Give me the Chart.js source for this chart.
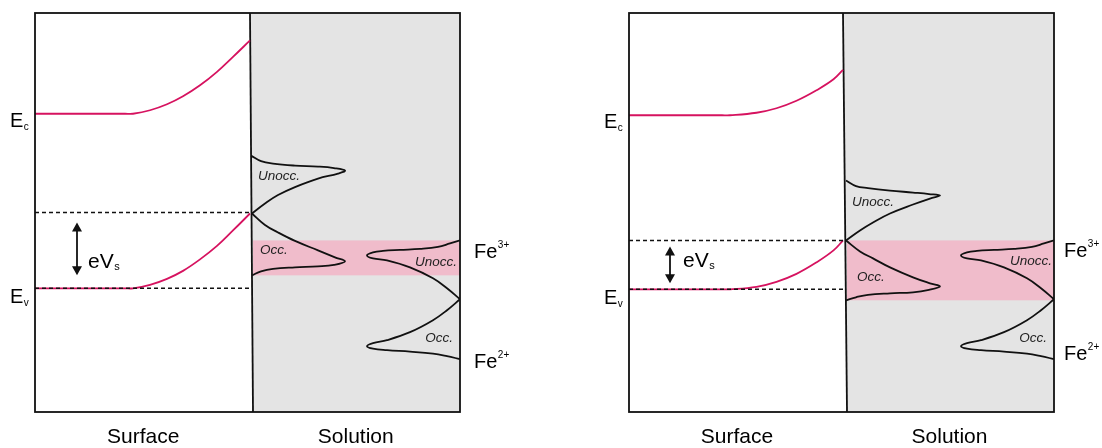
<!DOCTYPE html>
<html>
<head>
<meta charset="utf-8">
<script src="https://cdn.jsdelivr.net/npm/chart.js@4.4.1/dist/chart.umd.min.js"></script>
<style>
  html, body { margin: 0; padding: 0; background: #fff; }
  #wrap { position: relative; width: 1102px; height: 448px; }
  #wrap canvas { position: absolute; top: 0; }
  #left { left: 0; }
  #right { left: 551px; }
</style>
</head>
<body>
<div id="wrap">
  <canvas id="left" width="551" height="448"></canvas>
  <canvas id="right" width="551" height="448"></canvas>
</div>
<script>
// position across the interface (x) vs. electron energy (y), arbitrary units
const X_RANGE = [0, 85];
const Y_RANGE = [0, 80];

// left panel: surface Ev bent up to the Fe3+/Fe2+ crossing point
const leftEc = [[0, 59.8], [10, 59.8], [18, 59.8], [19.6, 59.8], [23, 60.5], [26.4, 61.7], [29.6, 63.3], [33, 65.5],
  [36.4, 68.2], [39.6, 71.2], [43, 74.5]];
const leftEv = [[0, 24.8], [10, 24.8], [18, 24.8], [19.6, 24.8], [23, 25.5], [26.4, 26.7], [29.6, 28.3], [33, 30.6],
  [36.4, 33.3], [39.6, 36.4], [43, 39.8]];
const leftLevels = [40, 24.8];              // surface / bulk valence band edge
const leftInterface = [[43.6, 0], [43, 80]];
const leftUnocc = [[43.2, 51.4], [45.2, 50.3], [47.6, 49.8], [52, 49.4], [56.6, 49.2], [59.8, 48.9], [62, 48.4],
  [60.6, 47.8], [56.6, 46.8], [52, 45.1], [48.6, 43.5], [46, 41.8], [43.4, 39.8]];
const leftOcc = [[43.4, 39.8], [46, 37.5], [48.6, 36], [52, 34.3], [56.6, 32.4], [60, 31], [62, 30.2],
  [59.8, 29.5], [56.6, 29.2], [52, 29], [47.6, 28.7], [45.2, 28.2], [43.4, 27.4]];
const leftOverlap = [34.4, 27.4];

// right panel: surface states shifted down, overlap window wider
const rightEc = [[0, 59.5], [10, 59.5], [18.6, 59.5], [20.2, 59.5], [25.5, 60], [29.5, 60.9], [33.5, 62.4], [37.5, 64.5],
  [40.9, 66.7], [42.8, 68.6]];
const rightEv = [[0, 24.6], [10, 24.6], [18.6, 24.6], [20.2, 24.6], [25.5, 25.1], [29.5, 26.1], [33.5, 27.7], [37.5, 30],
  [40.9, 32.4], [42.8, 34.4]];
const rightLevels = [34.4, 24.6];
const rightInterface = [[43.6, 0], [42.8, 80]];
const rightUnocc = [[43.4, 46.4], [45.4, 45.3], [47.8, 44.9], [52.2, 44.4], [56.8, 44], [60, 43.7], [62.2, 43.4],
  [60.2, 42.8], [56.8, 41.6], [52.2, 39.8], [48.8, 38], [46.2, 36.4], [43.4, 34.4]];
const rightOcc = [[43.4, 34.4], [46.2, 32.2], [48.8, 30.8], [52.2, 29], [56.8, 27], [60.2, 25.8], [62.2, 25.2],
  [60, 24.5], [56.8, 24], [52.2, 23.8], [47.8, 23.5], [45.4, 23], [43.4, 22.4]];
const rightOverlap = [34.4, 22.4];

// Fe3+/Fe2+ distributions in solution (same in both panels)
const feUnocc = [[85, 34.4], [83, 33.8], [80.6, 33.1], [77, 32.7], [73, 32.5], [69.6, 32.3], [67.6, 32], [66.4, 31.4],
  [67.6, 30.8], [70.4, 30.4], [75, 29], [79.6, 26.8], [82.4, 24.8], [85, 22.6]];
const feOcc = [[85, 22.6], [82.4, 20.4], [79.6, 18.4], [75, 16], [70.4, 14.4], [67.6, 13.8], [66.4, 13.2],
  [67.6, 12.7], [70.4, 12.4], [75, 12.1], [79.6, 11.7], [82.4, 11.2], [85, 10.6]];

const BAND = "#d6125f";
const INK = "#111";
const FONT = "'Liberation Sans', Arial, Helvetica, sans-serif";

const panels = [
  {
    id: "left", pad: { left: 35, right: 91, top: 13, bottom: 36 },
    ec: leftEc, ev: leftEv, levels: leftLevels, iface: leftInterface,
    unocc: leftUnocc, occ: leftOcc, overlap: leftOverlap,
    arrowX: 8.4, arrowY: [38, 27.4], evs: [10.6, 28.8],
    fe3: [87.8, 30.8], fe2: [87.8, 8.8],
    tags: [["Unocc.", 44.6, 47.2, "left"], ["Occ.", 45, 32.4, "left"],
           ["Unocc.", 84.4, 30, "right"], ["Occ.", 83.6, 14.8, "right"]],
  },
  {
    id: "right", pad: { left: 78, right: 48, top: 13, bottom: 36 },
    ec: rightEc, ev: rightEv, levels: rightLevels, iface: rightInterface,
    unocc: rightUnocc, occ: rightOcc, overlap: rightOverlap,
    arrowX: 8.2, arrowY: [33.2, 25.8], evs: [10.8, 29],
    fe3: [87, 31], fe2: [87, 10.4],
    tags: [["Unocc.", 44.6, 42, "left"], ["Occ.", 45.6, 27, "left"],
           ["Unocc.", 84.6, 30.2, "right"], ["Occ.", 83.6, 14.8, "right"]],
  },
];

function curve(pts, color, extra) {
  return Object.assign({
    data: pts.map(([x, y]) => ({ x, y })),
    showLine: true,
    borderColor: color,
    borderWidth: 1.8,
    pointRadius: 0,
    fill: false,
    tension: 0.4,
    order: 1,
  }, extra || {});
}

// text with a small sub- or superscript after it
function richText(ctx, x, y, main, small, size, shift) {
  ctx.font = `${size}px ${FONT}`;
  ctx.textAlign = "left";
  ctx.textBaseline = "alphabetic";
  ctx.fillText(main, x, y);
  const w = ctx.measureText(main).width;
  ctx.font = `${Math.round(size * 0.5)}px ${FONT}`;
  ctx.fillText(small, x + w + 0.5, y + shift);
}

function arrow(ctx, x, y1, y2) {
  const h = 9, hw = 5;
  ctx.beginPath();
  ctx.moveTo(x, y1 + h - 1);
  ctx.lineTo(x, y2 - h + 1);
  ctx.stroke();
  ctx.beginPath();
  ctx.moveTo(x, y1); ctx.lineTo(x - hw, y1 + h); ctx.lineTo(x + hw, y1 + h); ctx.closePath();
  ctx.moveTo(x, y2); ctx.lineTo(x - hw, y2 - h); ctx.lineTo(x + hw, y2 - h); ctx.closePath();
  ctx.fill();
}

function diagram(p) {
  return {
    id: "diagram-" + p.id,
    beforeDatasetsDraw(chart) {
      const { ctx, chartArea: a, scales: { x, y } } = chart;
      const px = (v) => x.getPixelForValue(v), py = (v) => y.getPixelForValue(v);
      ctx.save();
      // electrolyte side
      ctx.fillStyle = "#e4e4e4";
      ctx.beginPath();
      ctx.moveTo(px(p.iface[0][0]), py(p.iface[0][1]));
      ctx.lineTo(px(p.iface[1][0]), py(p.iface[1][1]));
      ctx.lineTo(a.right, a.top);
      ctx.lineTo(a.right, a.bottom);
      ctx.closePath();
      ctx.fill();
      // energy window where occupied surface states meet unoccupied Fe3+
      ctx.fillStyle = "#f0bccb";
      const yt = py(p.overlap[0]), yb = py(p.overlap[1]);
      ctx.fillRect(px(p.iface[0][0]), yt, a.right - px(p.iface[0][0]), yb - yt);
      ctx.restore();
    },
    afterDatasetsDraw(chart) {
      const { ctx, chartArea: a, scales: { x, y } } = chart;
      const px = (v) => x.getPixelForValue(v), py = (v) => y.getPixelForValue(v);
      ctx.save();
      ctx.strokeStyle = INK;
      ctx.fillStyle = INK;
      ctx.lineWidth = 1.8;
      ctx.strokeRect(a.left, a.top, a.right - a.left, a.bottom - a.top);

      arrow(ctx, px(p.arrowX), py(p.arrowY[0]), py(p.arrowY[1]));

      ctx.fillStyle = "#000";
      const labelX = px(0) - 25;
      richText(ctx, labelX, py(p.ec[0][1]) + 13, "E", "c", 20, 3);
      richText(ctx, labelX, py(p.ev[0][1]) + 15, "E", "v", 20, 3);
      richText(ctx, px(p.evs[0]), py(p.evs[1]), "eV", "s", 21, 2);
      richText(ctx, px(p.fe3[0]), py(p.fe3[1]), "Fe", "3+", 20, -10);
      richText(ctx, px(p.fe2[0]), py(p.fe2[1]), "Fe", "2+", 20, -10);

      ctx.fillStyle = "#222";
      ctx.font = `italic 13.5px ${FONT}`;
      ctx.textBaseline = "middle";
      p.tags.forEach(([t, tx, ty, align]) => {
        ctx.textAlign = align;
        ctx.fillText(t, px(tx), py(ty));
      });

      ctx.fillStyle = "#000";
      ctx.font = `21px ${FONT}`;
      ctx.textAlign = "center";
      ctx.textBaseline = "alphabetic";
      const mid = (p.iface[0][0] + p.iface[1][0]) / 2;
      ctx.fillText("Surface", (px(0) + px(mid)) / 2, a.bottom + 31);
      ctx.fillText("Solution", (px(mid) + a.right) / 2, a.bottom + 31);
      ctx.restore();
    },
  };
}

panels.forEach((p) => {
  const dash = { borderColor: INK, borderWidth: 1.4, borderDash: [4, 3], tension: 0, order: 0 };
  new Chart(document.getElementById(p.id), {
    type: "scatter",
    data: {
      datasets: [
        curve([[0, p.levels[0]], [p.iface[1][0], p.levels[0]]], INK, dash),
        curve([[0, p.levels[1]], [p.iface[1][0], p.levels[1]]], INK, dash),
        curve(p.ec, BAND),
        curve(p.ev, BAND),
        curve(p.unocc, INK),
        curve(p.occ, INK),
        curve(feUnocc, INK),
        curve(feOcc, INK),
        curve(p.iface, INK, { tension: 0 }),
      ],
    },
    options: {
      responsive: false,
      animation: false,
      devicePixelRatio: 1,
      events: [],
      layout: { padding: p.pad },
      plugins: { legend: { display: false }, tooltip: { enabled: false } },
      scales: {
        x: { type: "linear", min: X_RANGE[0], max: X_RANGE[1], display: false },
        y: { type: "linear", min: Y_RANGE[0], max: Y_RANGE[1], display: false },
      },
    },
    plugins: [diagram(p)],
  });
});
</script>
</body>
</html>
